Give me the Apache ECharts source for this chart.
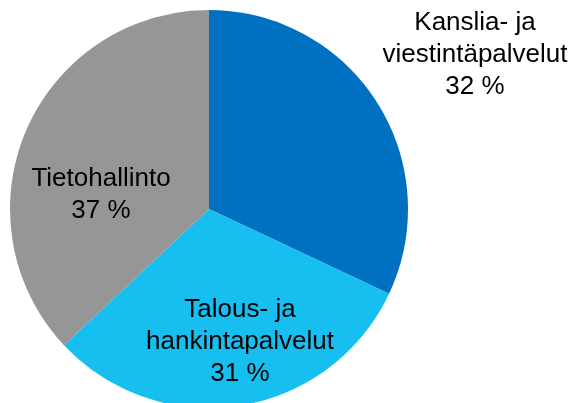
<!DOCTYPE html>
<html>
<head>
<meta charset="utf-8">
<script src="https://cdn.jsdelivr.net/npm/echarts@6/dist/echarts.min.js"></script>
<style>
  html, body { margin: 0; padding: 0; background: #fff; }
  #chart { width: 577px; height: 403px; }
</style>
</head>
<body>
<div id="chart"></div>
<script>
  // data
  var categories = ['Kanslia- ja\nviestintäpalvelut', 'Talous- ja\nhankintapalvelut', 'Tietohallinto'];
  var shares = [32, 31, 37];
  var colors = ['#0070c0', '#17bff0', '#969696'];

  // label block centres (px)
  var labelPos = [[475, 55], [240, 342], [101, 195]];

  var chart = echarts.init(document.getElementById('chart'));
  chart.setOption({
    animation: false,
    series: [{
      type: 'pie',
      center: [209, 209],
      radius: 199,
      startAngle: 90,
      clockwise: true,
      silent: true,
      label: {
        show: true,
        position: 'inside',
        formatter: '{b}\n{c} %',
        fontFamily: 'Liberation Sans, Arial, sans-serif',
        fontSize: 26,
        lineHeight: 32,
        color: '#000',
        align: 'center'
      },
      labelLine: { show: false },
      labelLayout: function (params) {
        var p = labelPos[params.dataIndex];
        return { x: p[0], y: p[1], align: 'center', verticalAlign: 'middle' };
      },
      data: categories.map(function (c, i) {
        return { name: c, value: shares[i], itemStyle: { color: colors[i] } };
      })
    }]
  });
</script>
</body>
</html>
